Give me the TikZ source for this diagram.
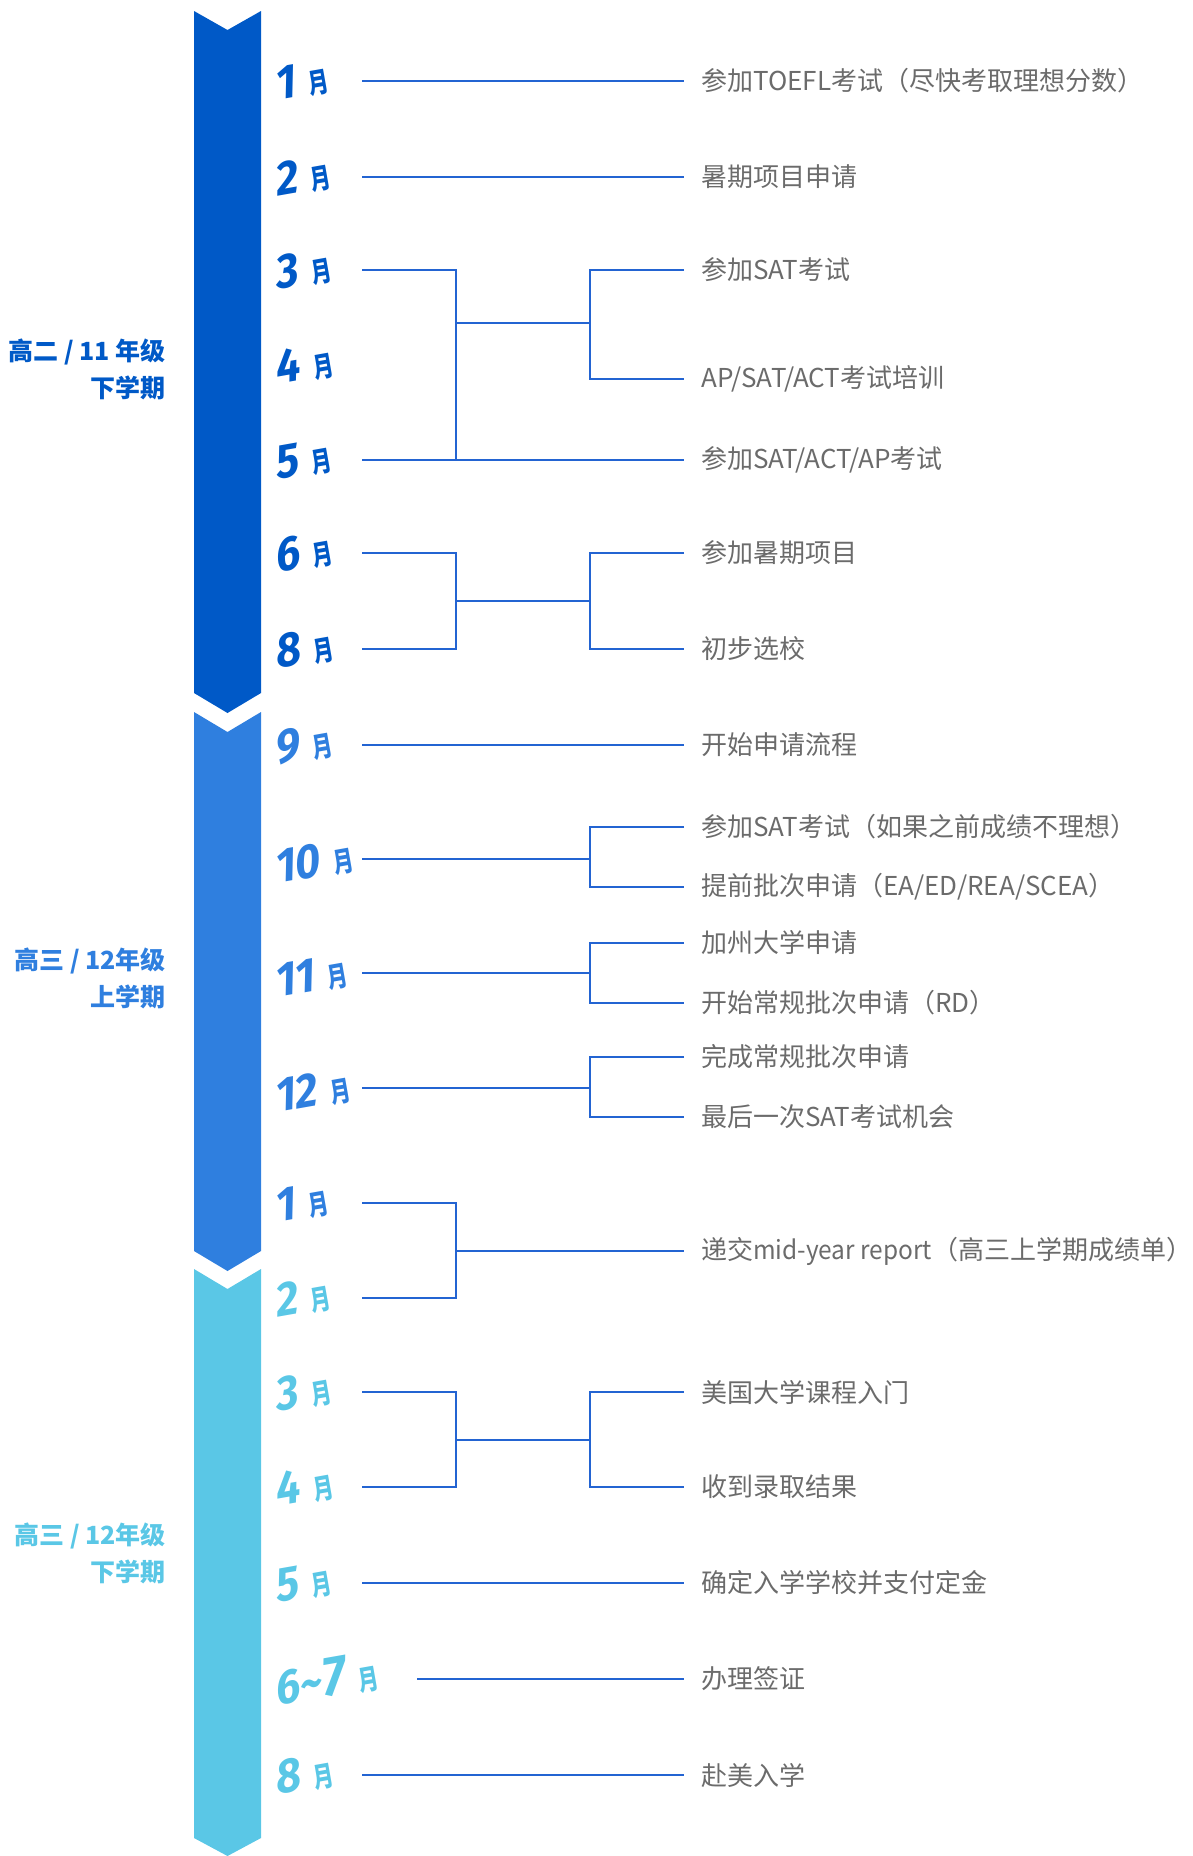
\documentclass[tikz,border=0pt]{standalone}
\usepackage{fontspec}
\setmainfont{Noto Sans CJK SC}
\newfontfamily\numfont[FakeStretch=0.9,FakeSlant=0.2]{Fira Sans}
\definecolor{cA}{RGB}{0,89,199}
\definecolor{cB}{RGB}{47,127,223}
\definecolor{cC}{RGB}{90,199,230}
\definecolor{ln}{RGB}{35,100,210}
\definecolor{tx}{RGB}{107,107,107}
\newcommand\monthlbl[1]{{\numfont\fontsize{48pt}{48pt}\bfseries #1}\hspace{15pt}{\fontsize{28pt}{28pt}\bfseries\scalebox{0.72}[1]{月}}}
\tikzset{
 mon/.style={anchor=base west, rotate=10, inner sep=0pt},
 txt/.style={anchor=west, inner xsep=17pt, inner ysep=0pt, text=tx, font=\fontsize{26pt}{30pt}\selectfont},
 conn/.style={draw=ln, line width=1.4pt},
 sem/.style={anchor=east, align=right, inner sep=0pt, font=\fontsize{25pt}{37pt}\selectfont\bfseries}
}
\begin{document}
\begin{tikzpicture}[x=1pt,y=-1pt]
\useasboundingbox (0,0) rectangle (1192,1856);
% bands
\fill[cA] (194,11) -- (227.5,30) -- (261,11) -- (261,693) -- (227.5,713) -- (194,693) -- cycle;
\fill[cB] (194,712) -- (227.5,732) -- (261,712) -- (261,1251) -- (227.5,1271) -- (194,1251) -- cycle;
\fill[cC] (194,1269) -- (227.5,1289) -- (261,1269) -- (261,1838) -- (227.5,1856) -- (194,1838) -- cycle;
% semester labels
\node[sem, text=cA] (s1) at (166,369) {高二 / 11 年级\\下学期};
\node[sem, text=cB] (s2) at (166,978) {高三 / 12年级\\上学期};
\node[sem, text=cC] (s3) at (166,1553) {高三 / 12年级\\下学期};
% month labels
\node[mon, text=cA] (m1) at (276,101) {\monthlbl{1}};
\node[mon, text=cA] (m2) at (276,197) {\monthlbl{2}};
\node[mon, text=cA] (m3) at (276,290) {\monthlbl{3}};
\node[mon, text=cA] (m4) at (276,385) {\monthlbl{4}};
\node[mon, text=cA] (m5) at (276,480) {\monthlbl{5}};
\node[mon, text=cA] (m6) at (276,573) {\monthlbl{6}};
\node[mon, text=cA] (m8) at (276,669) {\monthlbl{8}};
\node[mon, text=cB] (m9) at (276,765) {\monthlbl{9}};
\node[mon, text=cB] (m10) at (276,884) {\monthlbl{10}};
\node[mon, text=cB] (m11) at (276,998) {\monthlbl{11}};
\node[mon, text=cB] (m12) at (276,1113) {\monthlbl{12}};
\node[mon, text=cB] (n1) at (276,1223) {\monthlbl{1}};
\node[mon, text=cC] (n2) at (276,1318) {\monthlbl{2}};
\node[mon, text=cC] (n3) at (276,1412) {\monthlbl{3}};
\node[mon, text=cC] (n4) at (276,1507) {\monthlbl{4}};
\node[mon, text=cC] (n5) at (276,1603) {\monthlbl{5}};
\node[mon, text=cC] (n67) at (276,1706) {\monthlbl{6{\char`\~}{\fontsize{56pt}{56pt}\selectfont 7}}};
\node[mon, text=cC] (n8) at (276,1795) {\monthlbl{8}};
% line start points
\coordinate (p1) at (362,81);
\coordinate (p2) at (362,177);
\coordinate (p3) at (362,270);
\coordinate (p5) at (362,460);
\coordinate (p6) at (362,553);
\coordinate (p8) at (362,649);
\coordinate (p9) at (362,745);
\coordinate (p10) at (362,859);
\coordinate (p11) at (362,973);
\coordinate (p12) at (362,1088);
\coordinate (q1) at (362,1203);
\coordinate (q2) at (362,1298);
\coordinate (q3) at (362,1392);
\coordinate (q4) at (362,1487);
\coordinate (q5) at (362,1583);
\coordinate (q67) at (417,1679);
\coordinate (q8) at (362,1775);
% junctions
\coordinate (j1) at (456,323);
\coordinate (k1) at (590,323);
\coordinate (j2) at (456,601);
\coordinate (k2) at (590,601);
\coordinate (k3) at (590,859);
\coordinate (k4) at (590,973);
\coordinate (k5) at (590,1088);
\coordinate (j6) at (456,1251);
\coordinate (j7) at (456,1440);
\coordinate (k7) at (590,1440);
% texts
\node[txt] (t1) at (684,81) {参加TOEFL考试（尽快考取理想分数）};
\node[txt] (t2) at (684,177) {暑期项目申请};
\node[txt] (t3a) at (684,270) {参加SAT考试};
\node[txt] (t3b) at (684,379) {AP/SAT/ACT考试培训};
\node[txt] (t5) at (684,460) {参加SAT/ACT/AP考试};
\node[txt] (t6a) at (684,553) {参加暑期项目};
\node[txt] (t6b) at (684,649) {初步选校};
\node[txt] (t9) at (684,745) {开始申请流程};
\node[txt] (t10a) at (684,827) {参加SAT考试（如果之前成绩不理想）};
\node[txt] (t10b) at (684,887) {提前批次申请（EA/ED/REA/SCEA）};
\node[txt] (t11a) at (684,943) {加州大学申请};
\node[txt] (t11b) at (684,1003) {开始常规批次申请（RD）};
\node[txt] (t12a) at (684,1057) {完成常规批次申请};
\node[txt] (t12b) at (684,1117) {最后一次SAT考试机会};
\node[txt] (u1) at (684,1251) {递交\scalebox{0.94}[1]{mid-year report}（高三上学期成绩单）};
\node[txt] (u3a) at (684,1392) {美国大学课程入门};
\node[txt] (u3b) at (684,1487) {收到录取结果};
\node[txt] (u5) at (684,1583) {确定入学学校并支付定金};
\node[txt] (u67) at (684,1679) {办理签证};
\node[txt] (u8) at (684,1775) {赴美入学};
% connectors
\draw[conn] (p1) -- (t1.west);
\draw[conn] (p2) -- (t2.west);
\draw[conn] (p3) -| (j1) |- (p5);
\draw[conn] (p5) -- (t5.west);
\draw[conn] (j1) -- (k1);
\draw[conn] (t3a.west) -| (k1) |- (t3b.west);
\draw[conn] (p6) -| (j2) |- (p8);
\draw[conn] (j2) -- (k2);
\draw[conn] (t6a.west) -| (k2) |- (t6b.west);
\draw[conn] (p9) -- (t9.west);
\draw[conn] (p10) -- (k3);
\draw[conn] (t10a.west) -| (k3) |- (t10b.west);
\draw[conn] (p11) -- (k4);
\draw[conn] (t11a.west) -| (k4) |- (t11b.west);
\draw[conn] (p12) -- (k5);
\draw[conn] (t12a.west) -| (k5) |- (t12b.west);
\draw[conn] (q1) -| (j6) |- (q2);
\draw[conn] (j6) -- (u1.west);
\draw[conn] (q3) -| (j7) |- (q4);
\draw[conn] (j7) -- (k7);
\draw[conn] (u3a.west) -| (k7) |- (u3b.west);
\draw[conn] (q5) -- (u5.west);
\draw[conn] (q67) -- (u67.west);
\draw[conn] (q8) -- (u8.west);
\end{tikzpicture}
\end{document}
